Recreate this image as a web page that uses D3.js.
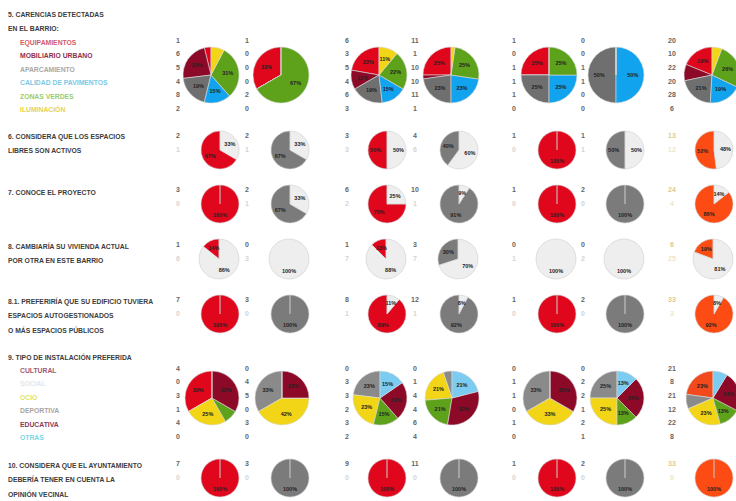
<!DOCTYPE html>
<meta charset="utf-8">
<style>
body {
    margin: 0px;
    background: #fff;
    overflow: hidden;
}
text {
    font-family: "Liberation Sans", Arial, sans-serif;
}
</style>
<body>
<script src="https://d3js.org/d3.v7.min.js"></script>
<script>
// columns: three pairs plus the total column
var columns = ["A1", "A2", "B1", "B2", "C1", "C2", "TOTAL"];

// 5. carencias
var carencias = ["EQUIPAMIENTOS", "MOBILIARIO URBANO", "APARCAMIENTO", "CALIDAD DE PAVIMENTOS", "ZONAS VERDES", "ILUMINACIÓN"];
var carenciasValues = [
  [1, 6, 5, 4, 8, 2],
  [1, 0, 0, 0, 2, 0],
  [6, 3, 5, 4, 6, 3],
  [11, 1, 10, 10, 11, 1],
  [1, 0, 1, 1, 1, 0],
  [0, 0, 1, 1, 0, 0],
  [20, 10, 22, 20, 28, 6]
];

// 9. instalaciones
var instalaciones = ["CULTURAL", "SOCIAL", "OCIO", "DEPORTIVA", "EDUCATIVA", "OTRAS"];
var instalacionesValues = [
  [4, 0, 3, 1, 4, 0],
  [0, 4, 5, 0, 3, 0],
  [0, 3, 3, 2, 3, 2],
  [0, 1, 4, 4, 6, 4],
  [0, 1, 1, 0, 1, 0],
  [0, 2, 2, 1, 2, 1],
  [21, 8, 21, 12, 22, 8]
];

// si / no questions  [si, no] per column
var q6Values  = [[2, 1], [2, 1], [3, 3], [4, 6], [1, 0], [1, 1], [13, 12]];
var q7Values  = [[3, 0], [2, 1], [6, 2], [10, 1], [1, 0], [2, 0], [24, 4]];
var q8Values  = [[1, 6], [0, 3], [1, 7], [3, 7], [0, 1], [0, 2], [6, 25]];
var q81Values = [[7, 0], [3, 0], [8, 1], [12, 1], [1, 0], [2, 0], [33, 3]];
var q10Values = [[7, 0], [3, 0], [9, 0], [11, 0], [1, 0], [2, 0], [33, 0]];

var titles = [
  ["5. CARENCIAS DETECTADAS", "EN EL BARRIO:"],
  ["6. CONSIDERA QUE LOS ESPACIOS", "LIBRES SON ACTIVOS"],
  ["7. CONOCE EL PROYECTO"],
  ["8. CAMBIARÍA SU VIVIENDA ACTUAL", "POR OTRA EN ESTE BARRIO"],
  ["8.1. PREFERIRÍA QUE SU EDIFICIO TUVIERA", "ESPACIOS AUTOGESTIONADOS", "O MÁS ESPACIOS PÚBLICOS"],
  ["9. TIPO DE INSTALACIÓN PREFERIDA"],
  ["10. CONSIDERA QUE EL AYUNTAMIENTO", "DEBERÍA TENER EN CUENTA LA", "OPINIÓN VECINAL"]
];

var carenciasColors = ["#e0061c", "#8c0a28", "#6f6f6f", "#12a3ee", "#5ea21c", "#f2d516"];
var carenciasText   = ["#d05a6c", "#8e3048", "#a8a8a8", "#7cc8e4", "#9ccc6e", "#e6d250"];
var instalColors    = ["#e0061c", "#8a8a8a", "#f2d516", "#5ea21c", "#8c0a28", "#7ccbf0"];
var instalText      = ["#a05874", "#dfe6ee", "#dde46a", "#a6a6a6", "#8a3a5a", "#7ad6de"];
var siColors = ["#e0061c", "#7b7b7b", "#e0061c", "#7b7b7b", "#e0061c", "#7b7b7b", "#fd4b14"];
var light = "#eeeeee";

var rows = [
  {kind: "multi", values: carenciasValues, cats: carencias, colors: carenciasColors, text: carenciasText, r: 28},
  {kind: "yn", values: q6Values, r: 19},
  {kind: "yn", values: q7Values, r: 19},
  {kind: "yn", values: q8Values, r: 20},
  {kind: "yn", values: q81Values, r: 19},
  {kind: "multi", values: instalacionesValues, cats: instalaciones, colors: instalColors, text: instalText, r: 27},
  {kind: "yn", values: q10Values, r: 19}
];

var width = 736, height = 501;

var rowY = d3.scaleOrdinal().domain(d3.range(7)).range([75, 150, 204, 259, 314, 398, 478]);
var titleY = d3.scaleOrdinal().domain(d3.range(7)).range([14, 136, 192, 246, 301, 357, 465]);
// right edge of the big pies / of the small pies
var colRight = d3.scaleOrdinal().domain(columns).range([239, 309, 407, 479, 577, 644, 740]);
var colRightSmall = d3.scaleOrdinal().domain(columns).range([239, 309, 406, 478, 576, 644, 733]);
var colNum = d3.scaleOrdinal().domain(columns).range([178, 247, 347, 415, 514, 583, 672]);

var svg = d3.select("body").append("svg")
    .attr("width", width)
    .attr("height", height);

var pie = d3.pie().sort(null).startAngle(0).endAngle(-2 * Math.PI);
var pct = function(v, t) { return Math.round(v / t * 100) + "%"; };

rows.forEach(function(row, ri) {
  var cy = rowY(ri);
  var g = svg.append("g");

  // question title
  g.selectAll("text.title")
    .data(titles[ri])
    .enter().append("text")
    .attr("x", 8)
    .attr("y", function(d, i) { return titleY(ri) + i * 14.5 + 2.5; })
    .attr("font-size", 6.8)
    .attr("font-weight", "bold")
    .attr("fill", "#3c3c3c")
    .text(function(d) { return d; });

  if (row.kind === "multi") {
    var legY0 = ri === 0 ? 42 : 370;
    var numY0 = ri === 0 ? 40 : 368;
    g.selectAll("text.leg")
      .data(row.cats)
      .enter().append("text")
      .attr("x", 20)
      .attr("y", function(d, i) { return legY0 + i * 13.5 + 2.5; })
      .attr("font-size", 6.8)
      .attr("font-weight", "bold")
      .attr("fill", function(d, i) { return row.text[i]; })
      .text(function(d) { return d; });

    columns.forEach(function(col, ci) {
      var vals = row.values[ci];
      var total = d3.sum(vals);
      var cx = colRight(col) - row.r;
      var arc = d3.arc().innerRadius(0).outerRadius(row.r);
      var lab = d3.arc().innerRadius(row.r * 0.6).outerRadius(row.r * 0.6);
      var colors = row.colors.slice();
      if (ri === 5 && col === "TOTAL") colors[0] = "#f24a1c";

      g.selectAll("text.n" + ci)
        .data(vals)
        .enter().append("text")
        .attr("x", colNum(col))
        .attr("y", function(d, i) { return numY0 + i * 13.7 + 2.5; })
        .attr("text-anchor", "middle")
        .attr("font-size", 7)
        .attr("font-weight", "bold")
        .attr("fill", "#666")
        .text(function(d) { return d; });

      var pg = g.append("g").attr("transform", "translate(" + cx + "," + cy + ")");
      var arcs = pie(vals);
      pg.selectAll("path")
        .data(arcs)
        .enter().append("path")
        .attr("d", arc)
        .attr("fill", function(d, i) { return colors[i]; })
        .attr("stroke", "#d8d8d8")
        .attr("stroke-width", 0.6);
      pg.selectAll("text")
        .data(arcs.filter(function(d) { return d.value / total >= 0.1; }))
        .enter().append("text")
        .attr("transform", function(d) { return "translate(" + lab.centroid(d) + ")"; })
        .attr("text-anchor", "middle")
        .attr("dy", "0.35em")
        .attr("font-size", 5.5)
        .attr("font-weight", "bold")
        .attr("fill", "#222")
        .text(function(d) { return pct(d.value, total); });
    });
  } else {
    columns.forEach(function(col, ci) {
      var vals = row.values[ci];
      var total = d3.sum(vals);
      var cx = colRightSmall(col) - row.r;
      var arc = d3.arc().innerRadius(0).outerRadius(row.r);
      var lab = d3.arc().innerRadius(row.r * 0.6).outerRadius(row.r * 0.6);
      var colors = [siColors[ci], light];
      var isTotal = col === "TOTAL";

      g.selectAll("text.n" + ci)
        .data(vals)
        .enter().append("text")
        .attr("x", colNum(col))
        .attr("y", function(d, i) { return cy - 15 + i * 14 + 2.5; })
        .attr("text-anchor", "middle")
        .attr("font-size", 7)
        .attr("font-weight", "bold")
        .attr("fill", function(d, i) {
          if (isTotal) return i === 0 ? "#d9cc94" : "#ece6cc";
          return i === 0 ? "#666" : "#d4d4d4";
        })
        .text(function(d) { return d; });

      var pg = g.append("g").attr("transform", "translate(" + cx + "," + cy + ")");
      var arcs = pie(vals);
      pg.selectAll("path")
        .data(arcs)
        .enter().append("path")
        .attr("d", arc)
        .attr("fill", function(d, i) { return colors[i]; })
        .attr("stroke", "#cfcfcf")
        .attr("stroke-width", 0.6);
      pg.selectAll("text")
        .data(arcs.filter(function(d) { return d.value / total >= 0.05; }))
        .enter().append("text")
        .attr("transform", function(d) { return "translate(" + lab.centroid(d) + ")"; })
        .attr("text-anchor", "middle")
        .attr("dy", "0.35em")
        .attr("font-size", 5.5)
        .attr("font-weight", "bold")
        .attr("fill", "#222")
        .text(function(d) { return pct(d.value, total); });
    });
  }
});
</script>
</body>
</html>
